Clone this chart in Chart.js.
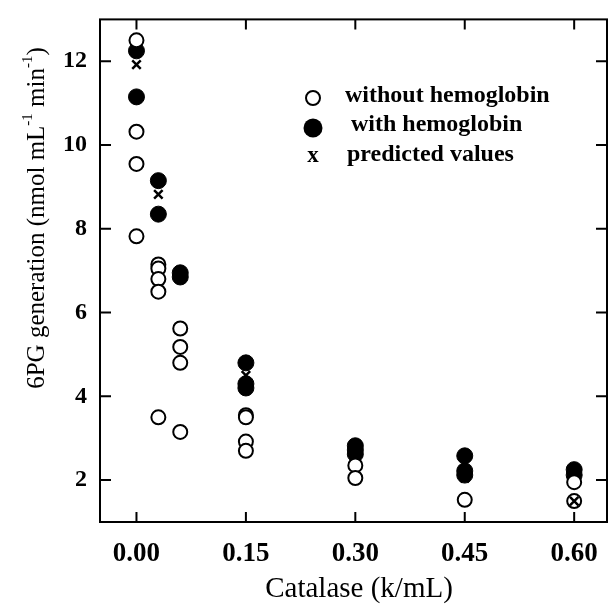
<!DOCTYPE html>
<html>
<head>
<meta charset="utf-8">
<script src="https://cdn.jsdelivr.net/npm/chart.js@4.4.1/dist/chart.umd.min.js"></script>
<style>
  body { margin: 0; background: #fff; }
  #box { width: 609px; height: 613px; }
</style>
</head>
<body>
<div id="box"><canvas id="myChart" width="609" height="613"></canvas></div>
<script>
// catalase concentrations (k/mL) and 6PG generation
const xTicks = [0, 0.15, 0.30, 0.45, 0.60];
const yTicks = [2, 4, 6, 8, 10, 12];

const withoutX = [0, 0, 0, 0, 0.03, 0.03, 0.03, 0.03, 0.03, 0.06, 0.06, 0.06, 0.06, 0.15, 0.15, 0.15, 0.15, 0.30, 0.30, 0.45, 0.60, 0.60];
const withoutY = [12.5, 10.32, 9.55, 7.82, 7.15, 7.05, 6.8, 6.5, 3.5, 5.62, 5.18, 4.8, 3.15, 3.55, 3.5, 2.92, 2.7, 2.35, 2.05, 1.53, 1.95, 1.5];

const withX = [0, 0, 0.03, 0.03, 0.06, 0.06, 0.15, 0.15, 0.15, 0.30, 0.30, 0.30, 0.45, 0.45, 0.45, 0.60, 0.60];
const withY = [12.25, 11.15, 9.15, 8.35, 6.95, 6.85, 4.8, 4.3, 4.2, 2.82, 2.72, 2.62, 2.58, 2.22, 2.12, 2.25, 2.12];

const predX = [0, 0.03, 0.06, 0.15, 0.30, 0.45, 0.60];
const predY = [11.92, 8.82, 7.0, 4.5, 2.7, 2.05, 1.5];

const toPoints = (xs, ys) => xs.map((x, i) => ({ x: x, y: ys[i] }));

const serif = '"Liberation Serif", "Times New Roman", serif';

// box round the plot, inward ticks, legend and axis titles
const frame = {
    id: 'frame',
    afterDatasetsDraw(chart) {
        const ctx = chart.ctx;
        const { left, right, top, bottom } = chart.chartArea;
        const xs = chart.scales.x, ys = chart.scales.y;
        ctx.save();
        ctx.strokeStyle = '#000';
        ctx.lineWidth = 2;
        ctx.strokeRect(left, top, right - left, bottom - top);
        ctx.beginPath();
        xTicks.forEach(v => {
            const p = xs.getPixelForValue(v);
            ctx.moveTo(p, bottom); ctx.lineTo(p, bottom - 10);
            ctx.moveTo(p, top); ctx.lineTo(p, top + 10);
        });
        yTicks.forEach(v => {
            const p = ys.getPixelForValue(v);
            ctx.moveTo(left, p); ctx.lineTo(left + 11, p);
            ctx.moveTo(right, p); ctx.lineTo(right - 11, p);
        });
        ctx.stroke();

        // legend
        ctx.lineWidth = 2;
        ctx.beginPath();
        ctx.arc(313, 98, 7, 0, Math.PI * 2);
        ctx.fillStyle = '#fff';
        ctx.fill();
        ctx.stroke();
        ctx.fillStyle = '#000';
        ctx.beginPath();
        ctx.arc(313, 128, 9.5, 0, Math.PI * 2);
        ctx.fill();
        ctx.font = 'bold 23px ' + serif;
        ctx.textBaseline = 'middle';
        ctx.textAlign = 'center';
        ctx.fillText('x', 313, 156);
        ctx.font = 'bold 24px ' + serif;
        ctx.textAlign = 'left';
        ctx.fillText('without hemoglobin', 345, 96);
        ctx.fillText('with hemoglobin', 351, 125);
        ctx.fillText('predicted values', 347, 155);

        // x title
        ctx.font = '29px ' + serif;
        ctx.textAlign = 'center';
        ctx.fillText('Catalase (k/mL)', 359, 589);

        // y title with superscripts
        ctx.translate(37, 218);
        ctx.rotate(-Math.PI / 2);
        const big = '25px ' + serif, small = '15px ' + serif;
        const parts = [['6PG generation (nmol mL', big, 0], ['-1', small, -9], [' min', big, 0], ['-1', small, -9], [')', big, 0]];
        let w = 0;
        parts.forEach(p => { ctx.font = p[1]; w += ctx.measureText(p[0]).width; });
        let cx = -w / 2;
        ctx.textAlign = 'left';
        parts.forEach(p => {
            ctx.font = p[1];
            ctx.fillText(p[0], cx, p[2]);
            cx += ctx.measureText(p[0]).width;
        });
        ctx.restore();
    }
};

const ctx = document.getElementById('myChart');

new Chart(ctx, {
    type: 'scatter',
    data: {
        datasets: [{
            label: 'without hemoglobin',
            data: toPoints(withoutX, withoutY),
            pointStyle: 'circle',
            pointRadius: 7,
            pointBorderWidth: 2,
            borderColor: '#000',
            backgroundColor: '#fff',
            order: 1
        }, {
            label: 'with hemoglobin',
            data: toPoints(withX, withY),
            pointStyle: 'circle',
            pointRadius: 8,
            pointBorderWidth: 1,
            borderColor: '#000',
            backgroundColor: '#000',
            order: 2
        }, {
            label: 'predicted values',
            data: toPoints(predX, predY),
            pointStyle: 'crossRot',
            pointRadius: 6,
            pointBorderWidth: 2.5,
            borderColor: '#000',
            backgroundColor: '#000',
            order: 0
        }]
    },
    options: {
        responsive: false,
        animation: false,
        layout: { autoPadding: false, padding: { top: 14, right: 2, left: 0, bottom: 0 } },
        plugins: {
            legend: { display: false },
            tooltip: { enabled: false }
        },
        scales: {
            x: {
                type: 'linear',
                min: -0.05,
                max: 0.645,
                afterBuildTicks: (s) => { s.ticks = xTicks.map(v => ({ value: v })); },
                afterFit: (s) => { s.height = 91; },
                grid: { display: false },
                border: { display: false },
                ticks: {
                    color: '#000',
                    padding: 8,
                    maxRotation: 0,
                    font: { family: serif, size: 27, weight: 'bold' },
                    callback: (v) => v.toFixed(2)
                }
            },
            y: {
                min: 1,
                max: 13,
                afterBuildTicks: (s) => { s.ticks = yTicks.map(v => ({ value: v })); },
                afterFit: (s) => { s.width = 100; },
                grid: { display: false },
                border: { display: false },
                ticks: {
                    color: '#000',
                    padding: 5,
                    font: { family: serif, size: 24, weight: 'bold' }
                }
            }
        }
    },
    plugins: [frame]
});
</script>
</body>
</html>
